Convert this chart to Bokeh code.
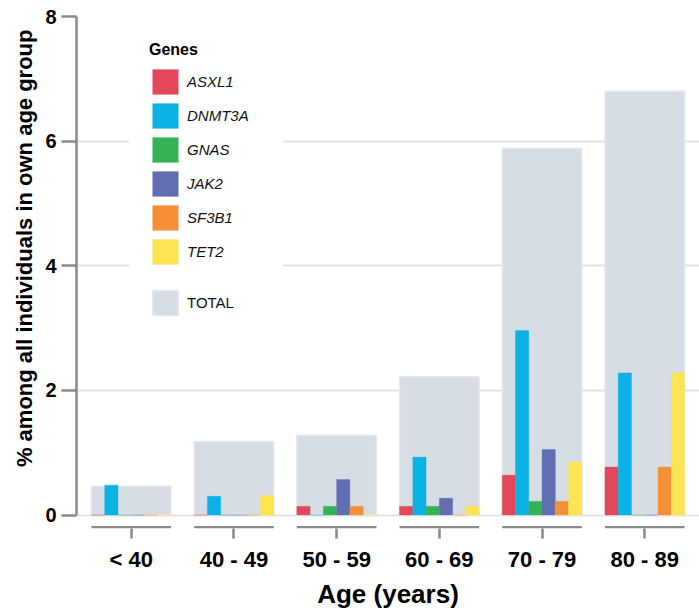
from bokeh.plotting import figure
from bokeh.models import (ColumnDataSource, FactorRange, Range1d, FixedTicker,
                          Legend, LegendItem, Title)
from bokeh.transform import dodge
from bokeh.embed import file_html
from bokeh.resources import INLINE

# ---- data ----
ages = ["< 40", "40 - 49", "50 - 59", "60 - 69", "70 - 79", "80 - 89"]
genes = ["ASXL1", "DNMT3A", "GNAS", "JAK2", "SF3B1", "TET2"]
total = [0.46, 1.18, 1.28, 2.22, 5.88, 6.80]
asxl1 = [0.0, 0.0, 0.14, 0.14, 0.64, 0.77]
dnmt3a = [0.48, 0.30, 0.0, 0.93, 2.96, 2.28]
gnas = [0.0, 0.0, 0.14, 0.14, 0.22, 0.0]
jak2 = [0.0, 0.0, 0.57, 0.27, 1.05, 0.0]
sf3b1 = [0.0, 0.0, 0.14, 0.0, 0.22, 0.77]
tet2 = [0.0, 0.31, 0.0, 0.14, 0.85, 2.28]
y_ticks = [0, 2, 4, 6, 8]

gene_values = [asxl1, dnmt3a, gnas, jak2, sf3b1, tet2]
gene_colors = ["#e2475a", "#0ab2e5", "#33b256", "#616eb1", "#f78f38", "#fde452"]
total_color = "#d6dde5"

FONT = "Liberation Sans"

src = ColumnDataSource(dict(age=ages, total=total,
                            **{g: v for g, v in zip(genes, gene_values)}))

y_start = -0.216
p = figure(width=699, height=611, output_backend="svg", toolbar_location=None,
           x_range=FactorRange(factors=ages, range_padding=0.033,
                               range_padding_units="absolute"),
           y_range=Range1d(y_start, 8),
           min_border_left=76, min_border_right=0, min_border_top=16,
           min_border_bottom=80)
p.outline_line_color = None
p.background_fill_color = "white"
p.xgrid.grid_line_color = None
p.ygrid.grid_line_color = "#e3e3e3"
p.ygrid.grid_line_width = 2
p.ygrid.ticker = FixedTicker(ticks=y_ticks)

band = 0.775
gw = band / 6

# total bars
r_total = p.vbar(x="age", top="total", bottom=0, width=band, source=src,
                 fill_color=total_color, line_color="#e6e9ee", line_width=1.5)

# gene bars
gene_renderers = []
for k, (g, c) in enumerate(zip(genes, gene_colors)):
    off = -band / 2 + gw * (k + 0.5)
    r = p.vbar(x=dodge("age", off, range=p.x_range), top=g, bottom=0, width=gw,
               source=src, fill_color=c, line_color=c, line_alpha=0.35,
               line_width=1)
    gene_renderers.append(r)

# segmented x-axis baseline per category
p.segment(x0=dodge("age", -band / 2, range=p.x_range),
          x1=dodge("age", band / 2, range=p.x_range),
          y0=y_start + 0.02, y1=y_start + 0.02, source=src,
          line_color="#8a8a8a", line_width=2.5)

# axes
xa = p.xaxis[0]
xa.axis_line_alpha = 0
xa.major_tick_in = 0
xa.major_tick_out = 10
xa.major_tick_line_color = "#8a8a8a"
xa.major_tick_line_width = 2.5
xa.major_label_text_font = FONT
xa.major_label_text_font_style = "bold"
xa.major_label_text_font_size = "22px"
xa.major_label_text_color = "black"
xa.major_label_standoff = 8
xa.axis_label = "Age (years)"
xa.axis_label_text_font = FONT
xa.axis_label_text_font_style = "bold"
xa.axis_label_text_font_size = "26px"
xa.axis_label_text_color = "black"
xa.axis_label_standoff = 4

ya = p.yaxis[0]
ya.ticker = FixedTicker(ticks=y_ticks)
ya.bounds = (0, 8)
ya.axis_line_color = "#8a8a8a"
ya.axis_line_width = 2.5
ya.major_tick_in = 0
ya.major_tick_out = 15
ya.major_tick_line_color = "#8a8a8a"
ya.major_tick_line_width = 2.5
ya.minor_tick_line_color = None
ya.major_label_text_font = FONT
ya.major_label_text_font_style = "bold"
ya.major_label_text_font_size = "20px"
ya.major_label_text_color = "black"
ya.major_label_standoff = 5

# y-axis title as a left-side title, its end placed near the top
p.add_layout(Title(text="% among all individuals in own age group",
                   align="right", offset=13, standoff=12,
                   text_font=FONT, text_font_style="bold",
                   text_font_size="22px", text_color="black"), "left")

# legends (location = bottom-left of the legend box, px from frame bottom-left)
common = dict(glyph_width=32, glyph_height=31, spacing=3,
              label_standoff=6, label_width=76, label_text_font=FONT,
              label_text_font_size="15px", label_text_color="#111111",
              padding=20, margin=0,
              border_line_color="white", border_line_alpha=0.0,
              background_fill_color="white", background_fill_alpha=1.0)
leg1 = Legend(items=[LegendItem(label=g, renderers=[r])
                     for g, r in zip(genes, gene_renderers)],
              title="Genes", title_text_font=FONT, title_text_font_style="bold",
              title_text_font_size="16px", title_text_color="black",
              title_standoff=7, label_text_font_style="italic",
              location=(53, 241), **common)
leg2 = Legend(items=[LegendItem(label="TOTAL", renderers=[r_total])],
              label_text_font_style="normal", location=(53, 190), **common)
p.add_layout(leg1)
p.add_layout(leg2)

open("out.html", "w").write(file_html(p, INLINE))
